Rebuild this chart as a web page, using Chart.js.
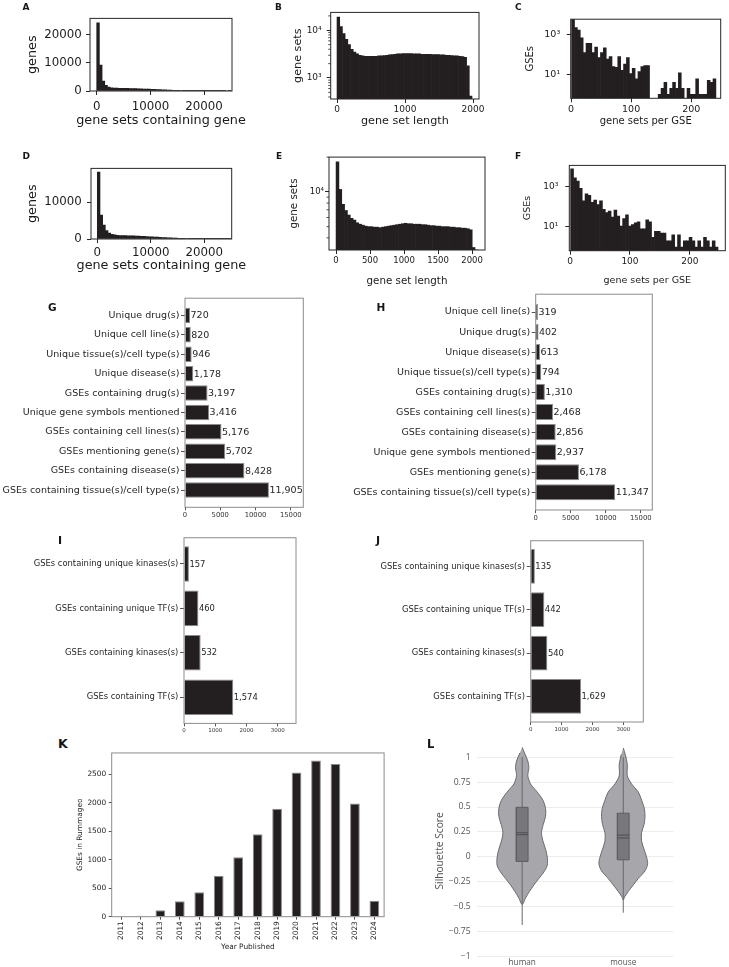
<!DOCTYPE html>
<html>
<head>
<meta charset="utf-8">
<script src="https://cdn.jsdelivr.net/npm/chart.js@4.4.1/dist/chart.umd.min.js"></script>
<style>
  html, body { margin: 0; padding: 0; background: #fff; }
  #page { position: relative; width: 729px; height: 967px; overflow: hidden; background: #fff; }
  #page canvas { position: absolute; }
  .tag { position: absolute; font-family: "DejaVu Sans", sans-serif; font-weight: bold; color: #161616; line-height: 1; }
</style>
</head>
<body>
<div id="page">
  <canvas id="chA"></canvas><canvas id="chB"></canvas><canvas id="chC"></canvas>
  <canvas id="chD"></canvas><canvas id="chE"></canvas><canvas id="chF"></canvas>
  <canvas id="chG"></canvas><canvas id="chH"></canvas>
  <canvas id="chI"></canvas><canvas id="chJ"></canvas>
  <canvas id="chK"></canvas><canvas id="chL"></canvas>
  <div class="tag" style="left:22.5px;top:2.9px;font-size:9px">A</div>
  <div class="tag" style="left:275px;top:2.9px;font-size:9px">B</div>
  <div class="tag" style="left:515px;top:2.9px;font-size:9px">C</div>
  <div class="tag" style="left:22.5px;top:151.6px;font-size:9px">D</div>
  <div class="tag" style="left:276px;top:151.6px;font-size:9px">E</div>
  <div class="tag" style="left:515px;top:151.6px;font-size:9px">F</div>
  <div class="tag" style="left:48px;top:302px;font-size:10.5px">G</div>
  <div class="tag" style="left:376.5px;top:302px;font-size:10.5px">H</div>
  <div class="tag" style="left:58px;top:534.7px;font-size:11px">I</div>
  <div class="tag" style="left:376px;top:535.4px;font-size:11px">J</div>
  <div class="tag" style="left:58px;top:737.8px;font-size:12.5px">K</div>
  <div class="tag" style="left:427px;top:738.6px;font-size:11.5px">L</div>
</div>
<script>
// ---- data ----
// A / D: genes by number of gene sets containing them (bins of 500)
const geneBinWidth = 500;
const humanGeneCounts = [24200, 9200, 3500, 2000, 1400, 1150, 1050, 1000, 980, 960, 950, 930, 900, 870, 840, 800, 760, 720, 680, 640,
  600, 560, 520, 480, 440, 400, 360, 320, 280, 240, 200, 170, 140, 110, 90, 70, 55, 40, 30, 22, 15, 10, 7, 5, 3, 2, 1, 1, 0, 1];
const mouseGeneCounts = [18200, 6500, 3800, 2300, 1600, 1250, 1100, 1000, 950, 920, 900, 880, 860, 830, 800, 770, 740, 700, 660, 620,
  580, 540, 500, 460, 420, 380, 340, 300, 270, 240, 210, 180, 160, 140, 120, 100, 85, 70, 60, 50, 40, 32, 25, 20, 15, 10, 7, 5, 3, 2];
const geneTicks = [0, 10000, 20000];
const geneTickLabels = ['0', '10000', '20000'];

// B / E: gene set length
const humanLenBin = 39.7;
const humanSetLen = [19000, 12000, 8500, 6500, 5000, 4000, 3500, 3200, 3000, 2900, 2850, 2850, 2850, 2850, 2850, 2900, 2900, 2950, 3000, 3050,
  3100, 3150, 3200, 3200, 3250, 3250, 3250, 3250, 3200, 3200, 3200, 3150, 3150, 3150, 3150, 3100, 3100, 3100, 3050, 3050,
  3000, 3000, 2950, 2900, 2900, 2850, 2800, 2700, 1800, 420];
const mouseLenBin = 41.7;
const mouseSetLen = [18200, 10500, 7800, 6900, 6300, 5900, 5700, 5400, 5250, 5150, 5050, 5000, 5000, 4950, 4950, 4900, 4950, 5000, 5050, 5100,
  5150, 5200, 5250, 5300, 5350, 5300, 5300, 5250, 5250, 5250, 5200, 5200, 5150, 5100, 5100, 5050, 5050, 5000, 5000, 5000,
  4950, 4950, 4900, 4900, 4850, 4850, 4800, 4700, 3300, 3000];
const lenTicksB = [0, 1000, 2000];
const lenTicksE = [0, 500, 1000, 1500, 2000];
const minorB = [400, 500, 600, 700, 800, 900, 2000, 3000, 4000, 5000, 6000, 7000, 8000, 9000, 20000];
const minorE = [4000, 5000, 6000, 7000, 8000, 9000, 20000];

// C / F: gene sets per GSE
const humanGseBin = 4.8;
const humanPerGse = [6000, 2300, 1700, 700, 125, 370, 370, 125, 240, 70, 125, 220, 60, 80, 25, 23, 80, 16, 33, 70,
  11, 20, 6, 14, 25, 28, 28, 0, 0, 0, 1, 2, 4, 1, 2, 4, 2, 12, 2, 0, 2, 1, 1, 6, 1, 1, 1, 5, 4, 6];
const mouseGseBin = 4.82;
const mousePerGse = [8000, 2900, 2000, 850, 200, 450, 380, 170, 220, 130, 200, 76, 53, 63, 31, 70, 35, 11, 26, 41,
  11, 13, 16, 18, 8, 8, 23, 18, 3, 6, 6, 5, 5, 2, 2, 4, 1, 4, 1, 2, 2, 3, 2, 1, 2, 1, 3, 2, 1, 2, 1];
const gseTicks = [0, 100, 200];

// G / H: metadata counts
const gCats = ['Unique drug(s)', 'Unique cell line(s)', 'Unique tissue(s)/cell type(s)', 'Unique disease(s)', 'GSEs containing drug(s)',
  'Unique gene symbols mentioned', 'GSEs containing cell lines(s)', 'GSEs mentioning gene(s)', 'GSEs containing disease(s)',
  'GSEs containing tissue(s)/cell type(s)'];
const gVals = [720, 820, 946, 1178, 3197, 3416, 5176, 5702, 8428, 11905];
const hCats = ['Unique cell line(s)', 'Unique drug(s)', 'Unique disease(s)', 'Unique tissue(s)/cell type(s)', 'GSEs containing drug(s)',
  'GSEs containing cell lines(s)', 'GSEs containing disease(s)', 'Unique gene symbols mentioned', 'GSEs mentioning gene(s)',
  'GSEs containing tissue(s)/cell type(s)'];
const hVals = [319, 402, 613, 794, 1310, 2468, 2856, 2937, 6178, 11347];
const ghTicks = [0, 5000, 10000, 15000];

// I / J: kinases and TFs
const ijCats = ['GSEs containing unique kinases(s)', 'GSEs containing unique TF(s)', 'GSEs containing kinases(s)', 'GSEs containing TF(s)'];
const iVals = [157, 460, 532, 1574];
const jVals = [135, 442, 540, 1629];
const ijTicks = [0, 1000, 2000, 3000];

// K: GSEs per year
const years = ['2011', '2012', '2013', '2014', '2015', '2016', '2017', '2018', '2019', '2020', '2021', '2022', '2023', '2024'];
const kVals = [2, 18, 112, 270, 429, 720, 1044, 1448, 1898, 2538, 2749, 2684, 1993, 281];
const kTicks = [0, 500, 1000, 1500, 2000, 2500];

// L: silhouette scores (violin outline = half width at each score level)
const silGroups = ['human', 'mouse'];
const silViolinY = [
  [1.098, 1.042, 0.96, 0.895, 0.814, 0.732, 0.65, 0.569, 0.487, 0.405, 0.324, 0.242, 0.16, 0.078, -0.003, -0.085, -0.15, -0.216, -0.281, -0.346, -0.412, -0.477],
  [1.092, 1.026, 0.928, 0.814, 0.732, 0.65, 0.569, 0.487, 0.405, 0.324, 0.242, 0.16, 0.078, -0.003, -0.07, -0.14, -0.216, -0.281, -0.346, -0.395, -0.43]];
const silViolinHalf = [
  [0, 0.023, 0.056, 0.066, 0.056, 0.082, 0.149, 0.205, 0.231, 0.231, 0.208, 0.191, 0.205, 0.231, 0.248, 0.248, 0.215, 0.165, 0.116, 0.072, 0.033, 0],
  [0, 0.02, 0.04, 0.04, 0.082, 0.149, 0.181, 0.208, 0.215, 0.205, 0.181, 0.181, 0.205, 0.231, 0.241, 0.215, 0.149, 0.099, 0.05, 0.017, 0]];
const silQ1 = [-0.045, -0.029];
const silMedian = [0.223, 0.19];
const silMean = [0.242, 0.219];
const silQ3 = [0.497, 0.438];
const silLow = [-0.682, -0.559];
const silHigh = [1.0, 1.0];
const silTicks = [-1, -0.75, -0.5, -0.25, 0, 0.25, 0.5, 0.75, 1];
const silTickLabels = ['\u22121', '\u22120.75', '\u22120.5', '\u22120.25', '0', '0.25', '0.5', '0.75', '1'];

// ---- helpers ----
const FONT = '"DejaVu Sans"';
const INK = '#1a1a1a';
const BAR = '#231f20';

// plot box in page pixels -> canvas placement
function place(id, box, m) {
  const c = document.getElementById(id);
  const left = Math.floor(box.l - m.l), top = Math.floor(box.t - m.t);
  const w = Math.ceil(box.r + m.r) - left, h = Math.ceil(box.b + m.b) - top;
  c.width = w; c.height = h;
  Object.assign(c.style, {left: left + 'px', top: top + 'px', width: w + 'px', height: h + 'px'});
  return {c, yw: box.l - left, xh: top + h - box.b, pr: left + w - box.r, pt: box.t - top};
}

const frame = {
  id: 'frame',
  afterDatasetsDraw(chart, args, o) {
    if (!o.color) return;
    const {ctx, chartArea: a} = chart;
    ctx.save();
    ctx.strokeStyle = o.color; ctx.lineWidth = 1;
    ctx.strokeRect(a.left, a.top, a.right - a.left, a.bottom - a.top);
    ctx.restore();
  }
};

const minorTicks = {
  id: 'minorTicks',
  afterDraw(chart, args, o) {
    if (!o.values) return;
    const sc = chart.scales.y, ctx = chart.ctx;
    ctx.save();
    ctx.strokeStyle = o.color; ctx.lineWidth = 0.8;
    o.values.forEach(v => {
      if (v < sc.min || v > sc.max) return;
      const y = sc.getPixelForValue(v);
      ctx.beginPath(); ctx.moveTo(sc.right, y); ctx.lineTo(sc.right - 2.5, y); ctx.stroke();
    });
    ctx.restore();
  }
};

const titles = {
  id: 'titles',
  afterDraw(chart, args, o) {
    const {ctx, chartArea: a} = chart;
    ctx.save();
    ctx.fillStyle = o.color || INK;
    ctx.font = o.size + 'px ' + (o.family || FONT);
    ctx.textAlign = 'center'; ctx.textBaseline = 'middle';
    if (o.x) ctx.fillText(o.x, (a.left + a.right) / 2, a.bottom + o.dy);
    if (o.y) {
      ctx.translate(a.left - o.dx, (a.top + a.bottom) / 2);
      ctx.rotate(-Math.PI / 2);
      ctx.fillText(o.y, 0, 0);
    }
    ctx.restore();
  }
};

const barValues = {
  id: 'barValues',
  afterDatasetsDraw(chart, args, o) {
    if (!o.size) return;
    const ctx = chart.ctx, meta = chart.getDatasetMeta(0), data = chart.data.datasets[0].data;
    ctx.save();
    ctx.font = o.size + 'px ' + FONT; ctx.fillStyle = o.color;
    ctx.textAlign = 'left'; ctx.textBaseline = 'middle';
    meta.data.forEach((el, i) => ctx.fillText(data[i].x.toLocaleString('en-US'), el.x + 0.5, el.y + 0.5));
    ctx.restore();
  }
};

function fixedTicks(values) {
  return s => { s.ticks = values.map(v => ({value: v})); };
}

function histogram(id, box, m, o) {
  const p = place(id, box, m);
  const pts = o.counts.map((c, i) => ({x: o.start + (i + 0.5) * o.width, y: (o.log && c <= 0) ? null : c}));
  return new Chart(p.c, {
    type: 'bar',
    data: {datasets: [{data: pts, backgroundColor: BAR, borderWidth: 0, barPercentage: 1, categoryPercentage: 1}]},
    options: {
      responsive: false, animation: false, events: [], devicePixelRatio: 1,
      layout: {padding: {left: 0, top: p.pt, right: p.pr, bottom: 0}},
      plugins: {
        legend: {display: false}, tooltip: {enabled: false},
        frame: {color: '#262626'},
        minorTicks: {values: o.minor || null, color: '#262626'},
        titles: {x: o.xTitle, y: o.yTitle, dx: o.dx, dy: o.dy, size: o.titleSize}
      },
      scales: {
        x: {
          type: 'linear', offset: false, bounds: 'data', min: o.xMin, max: o.xMax,
          afterFit: s => { s.height = p.xh; },
          afterBuildTicks: fixedTicks(o.xTicks),
          ticks: {autoSkip: false, maxRotation: 0, padding: o.xPad, color: INK,
                  font: {family: FONT, size: o.tickSize}, callback: (v, i) => String(o.xTicks[i])},
          grid: {drawOnChartArea: false, offset: false, tickLength: 4, color: '#262626'},
          border: {display: false}
        },
        y: {
          type: o.log ? 'logarithmic' : 'linear', bounds: 'data', min: o.yMin, max: o.yMax,
          afterFit: s => { s.width = p.yw; },
          afterBuildTicks: fixedTicks(o.yTicks),
          ticks: {autoSkip: false, padding: o.yPad, color: INK,
                  font: {family: FONT, size: o.tickSize}, callback: (v, i) => o.yLabels[i]},
          grid: {drawOnChartArea: false, tickLength: 4, color: '#262626'},
          border: {display: false}
        }
      }
    },
    plugins: [frame, minorTicks, titles]
  });
}

function hbar(id, box, m, o) {
  const p = place(id, box, m);
  return new Chart(p.c, {
    type: 'bar',
    data: {datasets: [{data: o.values.map((v, i) => ({x: v, y: i})), backgroundColor: BAR, borderColor: '#8a8a8a',
                       borderWidth: 1, barPercentage: 0.8, categoryPercentage: 1}]},
    options: {
      indexAxis: 'y', responsive: false, animation: false, events: [], devicePixelRatio: 1,
      layout: {padding: {left: 0, top: p.pt, right: p.pr, bottom: 0}},
      plugins: {
        legend: {display: false}, tooltip: {enabled: false},
        frame: {color: '#8c8c8c'},
        barValues: {size: o.valueSize, color: '#262626'}
      },
      scales: {
        x: {
          type: 'linear', offset: false, bounds: 'data', min: 0, max: o.xMax,
          afterFit: s => { s.height = p.xh; },
          afterBuildTicks: fixedTicks(o.xTicks),
          ticks: {autoSkip: false, maxRotation: 0, padding: 1, color: '#333',
                  font: {family: FONT, size: o.xTickSize}, callback: (v, i) => String(o.xTicks[i])},
          grid: {drawOnChartArea: false, offset: false, tickLength: 3, color: '#555'},
          border: {display: false}
        },
        y: {
          type: 'linear', reverse: true, offset: false, bounds: 'data', min: o.yMin, max: o.yMax,
          afterFit: s => { s.width = p.yw; },
          afterBuildTicks: fixedTicks(o.labels.map((_, i) => i)),
          ticks: {autoSkip: false, padding: o.yPad, color: '#262626',
                  font: {family: FONT, size: o.labelSize}, callback: (v, i) => o.labels[i]},
          grid: {drawOnChartArea: false, offset: false, tickLength: 4, color: '#555'},
          border: {display: false}
        }
      }
    },
    plugins: [frame, barValues]
  });
}

// ---- A to F: histograms ----
histogram('chA', {l: 90, t: 13, r: 232, b: 91}, {l: 66, t: 6, r: 20, b: 40}, {
  counts: humanGeneCounts, start: 0, width: geneBinWidth, xMin: -1250, xMax: 25200, yMin: 0, yMax: 25800,
  xTicks: geneTicks, yTicks: geneTicks, yLabels: geneTickLabels, tickSize: 11.8, titleSize: 12.8,
  xPad: 4.5, yPad: 4.3, xTitle: 'gene sets containing gene', yTitle: 'genes', dx: 57.2, dy: 30
});
histogram('chB', {l: 330.7, t: 7, r: 479, b: 99}, {l: 40, t: 5, r: 8, b: 32}, {
  counts: humanSetLen, start: 0, width: humanLenBin, xMin: -93, xMax: 2088, log: true, yMin: 363, yMax: 23700,
  xTicks: lenTicksB, yTicks: [1000, 10000], yLabels: ['10\u00b3', '10\u2074'], minor: minorB, tickSize: 9, titleSize: 11.2,
  xPad: 1.5, yPad: 5, xTitle: 'gene set length', yTitle: 'gene sets', dx: 32.4, dy: 22.5
});
histogram('chC', {l: 570.7, t: 13.3, r: 720.7, b: 98.3}, {l: 48, t: 6, r: 7, b: 32}, {
  counts: humanPerGse, start: 1, width: humanGseBin, xMin: -0.5, xMax: 249, log: true, yMin: 0.63, yMax: 6000,
  xTicks: gseTicks, yTicks: [10, 1000], yLabels: ['10\u00b9', '10\u00b3'], tickSize: 9.5, titleSize: 10,
  xPad: 1.5, yPad: 6.5, xTitle: 'gene sets per GSE', yTitle: 'GSEs', dx: 40.7, dy: 23.2
});
histogram('chD', {l: 91, t: 162.7, r: 231.7, b: 239}, {l: 66, t: 6, r: 20, b: 36}, {
  counts: mouseGeneCounts, start: 0, width: geneBinWidth, xMin: -1180, xMax: 25120, yMin: 0, yMax: 19200,
  xTicks: geneTicks, yTicks: [0, 10000], yLabels: ['0', '10000'], tickSize: 11.8, titleSize: 12.8,
  xPad: 2.5, yPad: 5.3, xTitle: 'gene sets containing gene', yTitle: 'genes', dx: 58, dy: 27
});
histogram('chE', {l: 329, t: 156.7, r: 485, b: 250}, {l: 42, t: 5, r: 7, b: 40}, {
  counts: mouseSetLen, start: 0, width: mouseLenBin, xMin: -104, xMax: 2190, log: true, yMin: 3140, yMax: 20000,
  xTicks: lenTicksE, yTicks: [10000], yLabels: ['10\u2074'], minor: minorE, tickSize: 8.5, titleSize: 10.3,
  xPad: 2, yPad: 1, xTitle: 'gene set length', yTitle: 'gene sets', dx: 35, dy: 31.5
});
histogram('chF', {l: 569.3, t: 158.3, r: 725.3, b: 250.7}, {l: 48, t: 5, r: 6, b: 38}, {
  counts: mousePerGse, start: 1, width: mouseGseBin, xMin: -1.2, xMax: 259, log: true, yMin: 0.65, yMax: 12000,
  xTicks: gseTicks, yTicks: [10, 1000], yLabels: ['10\u00b9', '10\u00b3'], tickSize: 9, titleSize: 9.5,
  xPad: 2, yPad: 7, xTitle: 'gene sets per GSE', yTitle: 'GSEs', dx: 41.8, dy: 30.3
});

// ---- G to J: horizontal bars ----
hbar('chG', {l: 185, t: 297.7, r: 303.3, b: 507.3}, {l: 185, t: 6, r: 8, b: 16}, {
  values: gVals, labels: gCats, xMax: 16780, yMin: -0.89, yMax: 9.89, xTicks: ghTicks,
  labelSize: 9.5, valueSize: 9.5, xTickSize: 6.8, yPad: 1.5
});
hbar('chH', {l: 535.7, t: 293.3, r: 652.3, b: 510}, {l: 190, t: 6, r: 8, b: 16}, {
  values: hVals, labels: hCats, xMax: 16650, yMin: -0.89, yMax: 9.89, xTicks: ghTicks,
  labelSize: 9.5, valueSize: 9.5, xTickSize: 6.8, yPad: 1.5
});
hbar('chI', {l: 184, t: 537.3, r: 296, b: 723.4}, {l: 184, t: 6, r: 8, b: 12}, {
  values: iVals, labels: ijCats, xMax: 3580, yMin: -0.59, yMax: 3.59, xTicks: ijTicks,
  labelSize: 8.4, valueSize: 8.4, xTickSize: 5.5, yPad: 1.7
});
hbar('chJ', {l: 530.7, t: 540, r: 643.3, b: 722}, {l: 160, t: 6, r: 8, b: 12}, {
  values: jVals, labels: ijCats, xMax: 3645, yMin: -0.59, yMax: 3.59, xTicks: ijTicks,
  labelSize: 8.4, valueSize: 8.4, xTickSize: 5.5, yPad: 1.7
});

// ---- K: GSEs per year ----
(function () {
  const p = place('chK', {l: 111.7, t: 752.7, r: 384.1, b: 916.7}, {l: 40, t: 6, r: 8, b: 38});
  new Chart(p.c, {
    type: 'bar',
    data: {labels: years, datasets: [{data: kVals, backgroundColor: BAR, borderColor: '#8a8a8a', borderWidth: 1,
                                      barPercentage: 0.5, categoryPercentage: 1}]},
    options: {
      responsive: false, animation: false, events: [], devicePixelRatio: 1,
      layout: {padding: {left: 0, top: p.pt, right: p.pr, bottom: 0}},
      plugins: {legend: {display: false}, tooltip: {enabled: false}, frame: {color: '#8c8c8c'},
                titles: {x: 'Year Published', y: 'GSEs in Rummageo', dx: 31.7, dy: 30.3, size: 7.4, color: '#262626'}},
      scales: {
        x: {
          afterFit: s => { s.height = p.xh; },
          ticks: {autoSkip: false, minRotation: 90, maxRotation: 90, padding: 1.5, color: '#262626', font: {family: FONT, size: 7.4}},
          grid: {drawOnChartArea: false, offset: false, tickLength: 3, color: '#555'},
          border: {display: false}
        },
        y: {
          type: 'linear', bounds: 'data', min: 0, max: 2880,
          afterFit: s => { s.width = p.yw; },
          afterBuildTicks: fixedTicks(kTicks),
          ticks: {autoSkip: false, padding: 2.5, color: '#262626', font: {family: FONT, size: 7.4}, callback: (v, i) => String(kTicks[i])},
          grid: {drawOnChartArea: false, tickLength: 3, color: '#555'},
          border: {display: false}
        }
      }
    },
    plugins: [frame, titles]
  });
})();

// ---- L: silhouette violins ----
(function () {
  const p = place('chL', {l: 476.7, t: 740.5, r: 673.3, b: 956.7}, {l: 43, t: 6, r: 6, b: 12});
  const sets = [];
  silGroups.forEach((name, g) => {
    const ys = silViolinY[g], hw = silViolinHalf[g];
    const right = ys.map((y, i) => ({x: g + hw[i], y}));
    const left = ys.map((y, i) => ({x: g - hw[i], y})).slice(1, -1).reverse();
    sets.push({data: right.concat(left), fill: 'shape', backgroundColor: '#a7a7ab', borderColor: '#6b6b6f',
               borderWidth: 1, tension: 0.3, pointRadius: 0, showLine: true, order: 4});
    sets.push({data: [{x: g, y: silLow[g]}, {x: g, y: silHigh[g]}], borderColor: '#68686c', borderWidth: 1,
               pointRadius: 0, showLine: true, fill: false, order: 3});
    const bw = 0.058;
    sets.push({data: [{x: g - bw, y: silQ1[g]}, {x: g + bw, y: silQ1[g]}, {x: g + bw, y: silQ3[g]}, {x: g - bw, y: silQ3[g]}, {x: g - bw, y: silQ1[g]}],
               fill: 'shape', backgroundColor: '#78787c', borderColor: '#5d5d61', borderWidth: 1, pointRadius: 0,
               showLine: true, tension: 0, order: 2});
    sets.push({data: [{x: g - bw, y: silMedian[g]}, {x: g + bw, y: silMedian[g]}], borderColor: '#4e4e52', borderWidth: 1,
               pointRadius: 0, showLine: true, fill: false, order: 1});
    sets.push({data: [{x: g - bw, y: silMean[g]}, {x: g + bw, y: silMean[g]}], borderColor: '#4e4e52', borderWidth: 1,
               pointRadius: 0, showLine: true, fill: false, order: 1});
  });
  new Chart(p.c, {
    type: 'scatter',
    data: {datasets: sets},
    options: {
      responsive: false, animation: false, events: [], devicePixelRatio: 1,
      layout: {padding: {left: 0, top: p.pt, right: p.pr, bottom: 0}},
      plugins: {legend: {display: false}, tooltip: {enabled: false},
                titles: {y: 'Silhouette Score', dx: 36.7, size: 10.2, family: '"Open Sans"', color: '#555'}},
      scales: {
        x: {
          type: 'linear', bounds: 'data', min: -0.45, max: 1.495,
          afterFit: s => { s.height = p.xh; },
          afterBuildTicks: fixedTicks([0, 1]),
          ticks: {autoSkip: false, maxRotation: 0, padding: 1, color: '#555', font: {family: '"Open Sans"', size: 8.2},
                  callback: (v, i) => silGroups[i]},
          grid: {display: false, drawTicks: false, tickLength: 0}, border: {display: false}
        },
        y: {
          type: 'linear', bounds: 'data', min: -1, max: 1.12,
          afterFit: s => { s.width = p.yw; },
          afterBuildTicks: fixedTicks(silTicks),
          ticks: {autoSkip: false, padding: 6, color: '#555', font: {family: '"Open Sans"', size: 8.6},
                  callback: (v, i) => silTickLabels[i]},
          grid: {drawTicks: false, tickLength: 0, color: '#ececec', lineWidth: 1}, border: {display: false}
        }
      }
    },
    plugins: [titles]
  });
})();
</script>
</body>
</html>
